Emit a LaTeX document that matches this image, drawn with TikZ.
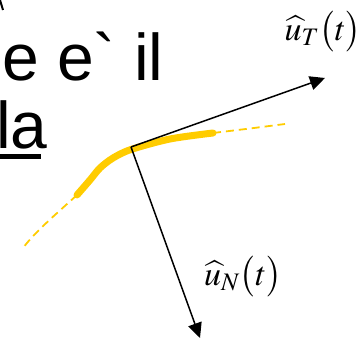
\documentclass[tikz,border=0pt]{standalone}
\usepackage{mathptmx}
\usepackage{fontspec}
\newfontfamily\arialfont{Liberation Sans}
\usetikzlibrary{arrows.meta}
\definecolor{curvegold}{HTML}{FFCC00}
\tikzset{
  bigtext/.style={anchor=base west, inner sep=0pt, font=\arialfont\fontsize{66}{66}\selectfont},
  veclabel/.style={inner sep=0pt, font=\fontsize{34}{40}\selectfont},
  vec/.style={line width=1.5pt, -{Triangle[length=15pt,width=14pt]}},
  thickcurve/.style={curvegold, line width=7pt, line cap=round, line join=round},
  thincurve/.style={curvegold, line width=1.8pt, dash pattern=on 8pt off 5pt}
}
\begin{document}
\begin{tikzpicture}[x=1pt,y=-1pt]
\useasboundingbox (0,0) rectangle (363,344);
\clip (0,0) rectangle (363,344);
% fragment of a glyph from the line above
\draw[line width=2pt] (0,0) -- (3,10);
% text
\node[bigtext] (line1) at (2,81) {e e{\char"0060} il};
\node[bigtext] (line2) at (-4,149) {la};
\draw[line width=4.8pt] (0,156.5) -- (41,156.5);
% curve
\draw[thincurve] (213,133) -- (250,128.5) -- (285,124);
\draw[thincurve] (77,195) .. controls (55,215) and (35,232) .. (23,248);
\draw[thickcurve] plot[smooth, tension=0.5] coordinates {(77,195) (90,180) (100,168) (113,158) (131,149.5) (170,139) (213,133)};
% vectors
\coordinate (o) at (131,147);
\coordinate (tT) at (325,78);
\coordinate (tN) at (200,338);
\draw[vec] (o) -- (tT);
\draw[vec] (o) -- (tN);
\node[veclabel] (lT) at (323,32) {$\widehat{u}_T\bigl(t\bigr)$};
\node[veclabel] (lN) at (243,277) {$\widehat{u}_N\bigl(t\bigr)$};
\end{tikzpicture}
\end{document}
